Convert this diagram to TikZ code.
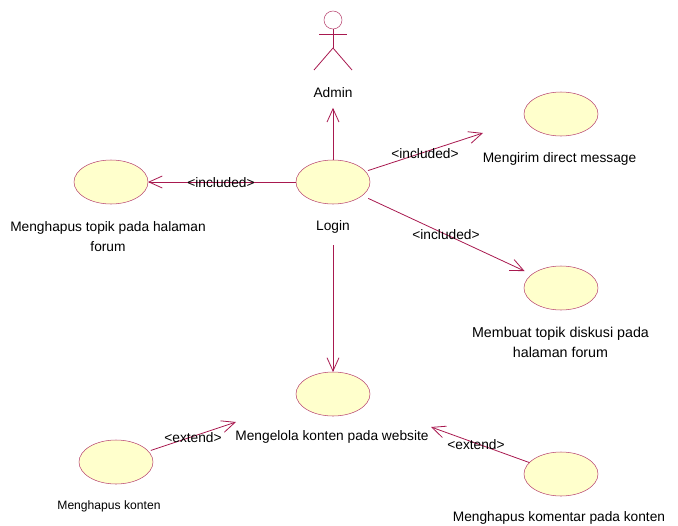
\documentclass[tikz,border=0pt]{standalone}
\usepackage{fontspec}
\setmainfont{Liberation Sans}
\usetikzlibrary{arrows.meta,shapes.geometric}
\definecolor{umlline}{HTML}{A8194F}
\definecolor{umlfill}{HTML}{FFFFCC}
\begin{document}
\begin{tikzpicture}[x=0.75pt,y=-0.75pt,->,>={Straight Barb[length=10pt,width=9pt]},umlline,semithick]
	\tikzstyle{usecase}=[ellipse,draw=umlline!80,fill=umlfill,thin,minimum width=55.5pt,minimum height=33pt,inner sep=0pt,outer sep=0pt]
	\tikzstyle{caption}=[text=black,font=\fontsize{10.3}{15}\selectfont,align=center,inner sep=0pt]
	\tikzstyle{stereo}=[text=black,font=\fontsize{10.3}{12}\selectfont,inner sep=0pt]
	\useasboundingbox (0,0) rectangle (678,525);

	\node[usecase] (login)   at (333,182) {};
	\node[usecase] (message) at (561,114) {};
	\node[usecase] (topic)   at (561,288) {};
	\node[usecase] (remove)  at (111,182) {};
	\node[usecase] (manage)  at (333,394) {};
	\node[usecase] (delete)  at (116,462) {};
	\node[usecase] (comment) at (561,474) {};

	\node[caption] (admintext)   at (333,93)  {Admin};
	\node[caption] (logintext)   at (333,226.5) {Login};
	\node[caption] (messagetext) at (559.5,159) {Mengirim direct message};
	\node[caption,font=\fontsize{10.7}{15}\selectfont] (topictext) at (560.5,342) {Membuat topik diskusi pada\\halaman forum};
	\node[caption] (removetext)  at (108,237) {Menghapus topik pada halaman\\forum};
	\node[caption] (managetext)  at (332,437) {Mengelola konten pada website};
	\node[caption,font=\fontsize{9.1}{15}\selectfont] (deletetext) at (109,506) {Menghapus konten};
	\node[caption] (commenttext) at (559,518) {Menghapus komentar pada konten};

	% actor
	\node[circle,draw=umlline!80,thin,fill=white,minimum size=13.5pt,inner sep=0pt] (head) at (333,20) {};
	\coordinate (neck) at (333,48);
	\coordinate (armleft) at (319,34);
	\coordinate (armright) at (347,34);
	\coordinate (legleft) at (314,70);
	\coordinate (legright) at (352,70);
	\path[-,line width=0.6pt]
	(head) edge (neck)
	(armleft) edge (armright)
	(neck) edge (legleft)
	(neck) edge (legright);

	\coordinate (messageend) at (483,133);
	\coordinate (extendleft) at (236,422);
	\coordinate (extendright) at (431,427);

	\path[->,line width=0.6pt]
	(login) edge [shorten >=7pt] (admintext)
	(login) edge [shorten <=2pt] (messageend)
	(login) edge [shorten <=5pt,shorten >=6pt] (topic)
	(login) edge (remove)
	(logintext) edge [shorten <=9pt] (manage)
	(delete) edge [shorten <=2pt] (extendleft)
	(comment) edge (extendright);

	\node[stereo] (inc1) at (221,182.5) {<included>};
	\node[stereo] (inc2) at (425,154) {<included>};
	\node[stereo] (inc3) at (446,234.5) {<included>};
	\node[stereo] (ext1) at (193,437.5) {<extend>};
	\node[stereo] (ext2) at (476,444.5) {<extend>};
\end{tikzpicture}
\end{document}
